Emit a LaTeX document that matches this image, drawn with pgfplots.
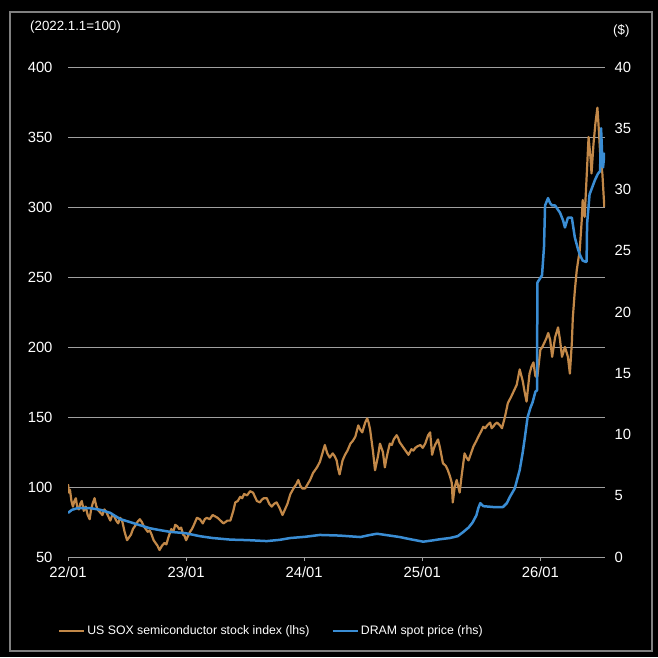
\documentclass[border=0pt]{standalone}
\usepackage{pgfplots}
\pgfplotsset{compat=1.18}
\usepackage{fontspec}
\setmainfont{Liberation Sans}
\definecolor{soxc}{RGB}{194,136,72}
\definecolor{dramc}{RGB}{58,141,212}
\definecolor{gridc}{RGB}{160,160,160}
\definecolor{framec}{RGB}{128,128,128}
\begin{document}
\begin{tikzpicture}[x=1pt,y=1pt]
\fill[black] (0,0) rectangle (658,657);
\useasboundingbox (0,0) rectangle (658,657);
\draw[framec, line width=1.3pt] (10,6) rectangle (652,645);
\node[anchor=west, text=white, inner sep=0, font=\fontsize{13.3}{15}\selectfont] at (30,630) {(2022.1.1=100)};
\node[anchor=west, text=white, inner sep=0, font=\fontsize{13.3}{15}\selectfont] at (613,626) {(\$)};
\begin{axis}[
  at={(68pt,100pt)}, anchor=south west,
  scale only axis, width=537pt, height=490pt,
  xmin=0, xmax=54.57, ymin=50, ymax=400,
  xtick={0,12,24,36,48}, xticklabels={22/01,23/01,24/01,25/01,26/01},
  ytick={50,100,...,400}, yticklabels={50,100,150,200,250,300,350,400},
  axis x line*=bottom, axis y line*=left,
  x axis line style={draw=gridc, line width=0.8pt, -},
  y axis line style={draw=none},
  xtick style={draw=gridc, line width=0.8pt}, tick align=outside,
  major tick length=4pt,
  ytick style={draw=none},
  ymajorgrids, grid style={gridc, line width=0.8pt},
  tick label style={text=white, font=\fontsize{14.8}{16}\selectfont},
  yticklabel style={xshift=-8pt},
  xticklabel style={yshift=-2pt},
]
\addplot[soxc, line width=2.2pt, line join=round] coordinates {
(0.0,102) (0.1,96) (0.2,98) (0.35,90) (0.5,86) (0.65,90) (0.8,92) (0.95,85) (1.1,84) (1.25,88) (1.4,90) (1.6,83) (1.8,86) (2.0,80) (2.2,77) (2.35,84) (2.5,88) (2.7,92)
(2.85,87) (3.0,84) (3.25,82) (3.5,80) (3.7,84) (3.9,82) (4.1,79) (4.3,76) (4.5,80) (4.7,79) (4.9,76) (5.1,74) (5.3,78) (5.5,76) (5.75,68) (6.0,62) (6.2,64) (6.4,66) (6.6,70) (6.8,72)
(7.05,75) (7.3,77) (7.5,75) (7.7,72) (7.9,70) (8.1,68) (8.3,69) (8.5,66) (8.7,62) (8.9,60) (9.1,58) (9.3,55) (9.55,58) (9.8,60) (10.0,59) (10.2,64) (10.35,67) (10.5,70) (10.7,68) (10.9,73)
(11.1,72) (11.3,70) (11.5,71) (11.7,66) (11.85,65) (12.0,62) (12.2,65) (12.4,68) (12.6,70) (12.8,73) (13.1,78) (13.4,77) (13.7,74) (13.9,77) (14.1,78) (14.4,77) (14.7,80)
(14.95,79) (15.2,78) (15.5,76) (15.8,74) (16.2,76) (16.5,76) (16.8,83) (17.0,89) (17.25,90) (17.5,93) (17.7,92) (17.9,95) (18.2,94) (18.5,97)
(18.8,96) (19.0,93) (19.2,90) (19.5,89) (19.7,91) (19.9,92) (20.2,92) (20.45,88) (20.7,86) (20.95,88) (21.2,89) (21.5,85) (21.8,80) (22.05,84) (22.3,88) (22.6,95)
(23.0,100) (23.2,102) (23.4,105) (23.6,101) (23.8,99) (24.1,99) (24.35,102) (24.6,105) (24.9,110) (25.1,112) (25.3,114) (25.6,118) (25.85,124) (26.1,130) (26.35,124) (26.6,121)
(26.9,124) (27.1,122) (27.3,119) (27.45,113) (27.6,109) (27.9,119) (28.15,123) (28.4,126) (28.7,131) (28.95,133) (29.2,136) (29.5,144) (29.7,141) (29.9,139) (30.2,146)
(30.4,149) (30.55,146) (30.7,141) (31.0,125) (31.2,112) (31.35,117) (31.5,122) (31.7,131) (31.85,128) (32.0,125) (32.2,114) (32.35,120) (32.5,125) (32.7,131)
(32.9,130) (33.1,134) (33.4,137) (33.55,135) (33.7,132) (34.0,129) (34.3,126) (34.6,123) (34.9,127) (35.1,126) (35.3,128) (35.5,129) (35.8,130)
(36.05,128) (36.3,131) (36.6,137) (36.8,139) (37.0,123) (37.15,127) (37.3,130) (37.6,134) (37.8,128) (38.1,117) (38.4,115) (38.6,112)
(38.8,108) (39.0,103) (39.1,89) (39.3,100) (39.5,105) (39.8,96) (40.0,108) (40.3,124) (40.5,121) (40.7,119) (41.0,125)
(41.2,129) (41.5,133) (41.7,136) (42.0,140) (42.2,143) (42.4,142) (42.6,144) (42.9,146) (43.05,142) (43.2,143) (43.4,145) (43.6,146) (43.9,144)
(44.1,142) (44.4,150) (44.7,160) (45.0,164) (45.2,167) (45.4,170) (45.6,173) (45.9,184) (46.2,176) (46.4,168) (46.6,161) (46.9,181)
(47.1,186) (47.3,189) (47.5,179) (47.7,179) (48.0,198) (48.2,200) (48.4,203) (48.6,206) (48.8,210) (49.0,205) (49.2,193) (49.35,200) (49.5,207) (49.8,214)
(50.0,205) (50.2,193) (50.5,200) (50.8,193) (51.0,181) (51.2,203) (51.3,221) (51.5,240) (51.7,255) (52.0,269)
(52.2,290) (52.3,305) (52.5,293) (52.7,321) (52.9,350) (53.1,335) (53.2,324) (53.4,345) (53.6,360) (53.8,371)
(53.9,360) (54.1,336) (54.3,324) (54.4,312) (54.5,300)
};
\end{axis}
\begin{axis}[
  at={(68pt,100pt)}, anchor=south west,
  scale only axis, width=537pt, height=490pt,
  xmin=0, xmax=54.57, ymin=0, ymax=40,
  ytick={0,5,...,40}, yticklabels={0,5,10,15,20,25,30,35,40},
  hide x axis,
  axis y line*=right,
  y axis line style={draw=none},
  ytick style={draw=none},
  tick label style={text=white, font=\fontsize{14.8}{16}\selectfont},
  yticklabel style={xshift=6pt},
  legend style={at={(axis description cs:-0.024,-0.151)}, anchor=west,
    legend columns=2, draw=none, fill=none, text=white,
    font=\fontsize{12.3}{14}\selectfont,
    /tikz/every even column/.append style={column sep=20pt}},
  legend image code/.code={\draw[#1] (0pt,0pt) -- (25pt,0pt);},
]
\addlegendimage{soxc, line width=2pt}
\addlegendentry{US SOX semiconductor stock index (lhs)}
\addplot[dramc, line width=2.5pt, line join=round] coordinates {
(0,3.6) (0.4,3.85) (1.0,4.0) (2.2,4.0) (3.3,3.85) (4.3,3.6) (5.3,3.1) (6.3,2.85) (7.3,2.6) (8.3,2.35)
(9.3,2.2) (10.4,2.05) (11.9,1.95) (13.4,1.7) (14.7,1.55) (16.5,1.42) (18.2,1.38) (20.2,1.3) (21.5,1.4) (22.6,1.55)
(24.1,1.65) (25.6,1.8) (27.6,1.75) (29.7,1.63) (30.7,1.8) (31.4,1.9) (32.7,1.75) (33.7,1.63) (34.8,1.45) (36.1,1.25)
(37.0,1.35) (37.8,1.45) (38.8,1.55) (39.6,1.7) (40.1,2.0) (40.7,2.4) (41.1,2.8) (41.5,3.4) (41.7,4.0) (41.9,4.4)
(42.2,4.15) (43.2,4.08) (44.2,4.08) (44.6,4.4) (44.9,4.9) (45.4,5.6) (45.7,6.5) (45.9,7.1) (46.2,8.5) (46.4,9.6)
(46.7,11.4) (47.0,12.2) (47.2,12.6) (47.5,13.5) (47.66,13.6) (47.7,22.4) (48.17,23.0) (48.37,25.3) (48.48,28.7) (48.78,29.3)
(48.98,28.9) (49.19,28.7) (49.49,28.7) (50.0,28.1) (50.3,27.5) (50.5,26.9) (50.8,27.7) (51.2,27.7) (51.5,26.1) (51.8,25.2)
(52.0,24.7) (52.3,24.2) (52.6,24.1) (52.7,24.1) (52.75,27.2) (53.0,29.6) (53.56,30.8) (53.86,31.3) (54.07,31.5) (54.17,35.0)
(54.27,33.0) (54.37,31.8) (54.47,32.6) (54.57,33.0)
};
\addlegendentry{DRAM spot price (rhs)}
\end{axis}
\end{tikzpicture}
\end{document}
